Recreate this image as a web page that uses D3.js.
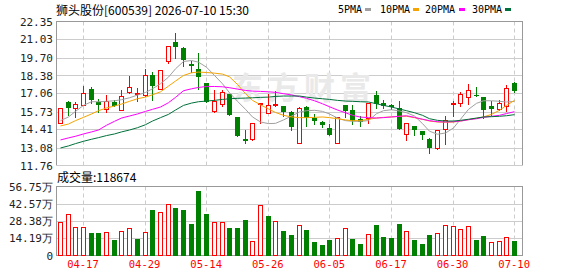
<!DOCTYPE html>
<html>
<head>
<meta charset="utf-8">
<script src="https://cdn.jsdelivr.net/npm/d3@7"></script>
<style>
  body { margin: 0; background: #fff; }
  svg { display: block; }
</style>
</head>
<body>
<div id="grafico"></div>
<script>
// datos del gráfico
var dates = ["04-14","04-15","04-16","04-17","04-20","04-21","04-22","04-23","04-24","04-27",
  "04-28","04-29","04-30","05-06","05-07","05-08","05-11","05-12","05-13","05-14",
  "05-15","05-18","05-19","05-20","05-21","05-22","05-25","05-26","05-27","05-28",
  "05-29","06-01","06-02","06-03","06-04","06-05","06-08","06-09","06-10","06-11",
  "06-12","06-15","06-16","06-17","06-18","06-22","06-23","06-24","06-25","06-26",
  "06-29","06-30","07-01","07-02","07-03","07-06","07-07","07-08","07-09","07-10"];

var open = [14.91,16.43,16.01,16.23,17.38,16.40,15.89,16.45,15.86,17.13,
  17.01,16.92,18.43,17.40,19.41,20.82,20.41,19.20,18.85,17.82,
  15.77,16.30,17.01,15.33,13.74,13.74,16.25,15.64,16.18,16.11,
  15.69,13.39,16.06,15.28,14.96,14.52,13.44,16.18,15.82,15.15,
  15.25,16.94,16.35,16.18,15.99,14.08,14.64,14.30,13.74,13.05,
  14.42,16.25,16.38,16.77,16.96,16.77,16.13,15.94,16.13,17.82];
var high = [16.00,16.52,16.43,17.57,17.53,16.65,16.91,16.60,17.28,18.31,
  17.43,18.85,18.65,18.80,20.58,21.48,20.45,19.45,20.02,17.85,
  17.31,17.31,17.05,15.35,14.35,14.92,16.35,16.99,17.21,16.15,
  15.77,16.04,16.10,15.52,15.06,14.84,15.36,16.18,16.23,15.40,
  16.35,17.21,16.55,16.30,16.47,14.87,14.66,14.32,13.76,14.37,
  15.37,16.50,17.16,17.75,17.53,16.79,16.50,16.60,17.65,17.89];
var low = [14.85,15.50,15.35,16.20,16.35,15.69,15.69,16.10,15.85,17.12,
  16.52,16.90,16.60,17.38,19.31,19.68,19.07,18.60,17.40,16.40,
  15.69,16.11,15.48,13.95,13.44,13.66,14.89,15.62,16.16,15.37,
  14.40,13.39,14.70,14.84,14.59,13.98,13.42,15.33,14.84,14.64,
  14.91,15.99,15.99,15.89,14.43,13.66,14.03,13.69,12.69,13.00,
  13.37,15.40,16.11,16.30,16.87,15.25,15.45,15.82,15.74,17.16];
var close = [15.99,16.01,16.25,17.06,16.60,16.23,16.52,16.16,16.84,17.50,
  17.09,18.38,17.60,18.75,20.58,20.46,19.55,19.08,18.26,16.43,
  16.50,17.16,15.50,13.96,13.54,14.89,16.35,16.18,16.30,15.69,
  14.59,16.01,15.28,15.03,14.76,14.03,15.35,15.77,15.01,14.98,
  16.33,16.31,16.11,16.03,14.45,14.86,14.40,13.98,13.05,14.35,
  15.13,16.35,17.01,17.28,16.91,15.86,15.94,16.33,17.45,17.23];

// volumen en 万
var volume = [27.2,34.0,23.2,23.2,18.5,18.5,19.1,12.8,19.9,22.3,
  13.6,19.1,37.3,35.4,42.2,38.9,37.3,25.8,53.0,34.0,
  27.5,27.5,22.6,22.6,29.1,12.0,41.3,32.4,28.3,20.1,
  16.9,25.0,21.0,11.4,8.7,12.8,14.2,22.3,13.6,9.5,
  17.7,25.0,15.3,14.4,25.8,19.9,12.8,9.5,16.9,18.5,
  24.8,24.0,21.5,24.0,12.8,16.1,11.2,12.0,15.0,11.8674];

var ma5 = [15.06,15.33,15.74,16.18,16.45,16.45,16.48,16.52,16.60,16.74,
  16.94,17.13,17.40,17.77,18.26,18.87,19.41,19.48,19.36,18.99,
  18.38,17.77,17.11,16.48,15.89,15.33,14.96,14.84,14.86,15.11,
  15.40,15.69,15.79,15.82,15.74,15.55,15.25,15.06,15.01,15.01,
  15.06,15.57,15.79,15.86,15.77,15.64,15.40,14.84,14.28,14.06,
  14.15,14.52,15.16,15.89,16.33,16.52,16.52,16.48,16.43,16.48];
var ma10 = [14.67,14.81,15.06,15.30,15.55,15.79,15.99,16.13,16.28,16.48,
  16.67,16.79,16.96,17.18,17.60,17.97,18.38,18.58,18.63,18.60,
  18.55,18.48,18.28,17.72,17.04,16.55,16.22,15.92,15.66,15.45,
  15.33,15.28,15.28,15.30,15.33,15.28,15.20,15.11,15.06,15.06,
  15.16,15.25,15.30,15.33,15.38,15.38,15.28,15.16,15.03,14.96,
  14.94,14.96,15.03,15.13,15.23,15.33,15.52,15.82,16.18,16.55];
var ma20 = [13.64,13.79,13.91,14.08,14.23,14.37,14.72,15.01,15.25,15.40,
  15.55,15.74,15.89,16.06,16.38,16.77,17.26,17.40,17.50,17.57,
  17.57,17.55,17.48,17.38,17.28,17.23,17.21,17.18,17.14,17.04,
  16.95,16.82,16.70,16.52,16.30,16.08,15.84,15.64,15.45,15.32,
  15.28,15.25,15.28,15.33,15.38,15.42,15.30,15.16,15.06,14.98,
  14.96,14.98,15.03,15.13,15.20,15.30,15.38,15.45,15.58,15.72];
var ma30 = [13.05,13.20,13.37,13.54,13.69,13.81,13.96,14.08,14.23,14.37,
  14.54,14.76,15.03,15.28,15.52,15.84,16.18,16.35,16.45,16.50,
  16.55,16.62,16.67,16.70,16.72,16.74,16.77,16.79,16.84,16.87,
  16.87,16.87,16.79,16.72,16.67,16.62,16.55,16.50,16.48,16.45,
  16.43,16.30,16.18,16.06,15.91,15.79,15.64,15.45,15.20,15.08,
  15.03,15.03,15.08,15.16,15.25,15.33,15.35,15.38,15.42,15.50];

var priceTicks = [11.76, 13.08, 14.41, 15.73, 17.06, 18.38, 19.70, 21.03, 22.35];
var volTicks = [0, 14.19, 28.38, 42.57, 56.75];
var dateTicks = ["04-17","04-29","05-14","05-26","06-05","06-17","06-30","07-10"];

var maNames = ["5PMA", "10PMA", "20PMA", "30PMA"];
var maColors = ["#a0a0a0", "#f5a300", "#ff00ff", "#00703a"];

// tamaño
var width = 578, height = 276;
var left = 56, right = 523;
var pTop = 21.5, pBottom = 165.5;
var vTop = 186.5, vBottom = 255.5;

var svg = d3.select("#grafico").append("svg")
  .attr("width", width).attr("height", height);

var x = d3.scaleBand().domain(dates).range([left, 518]);
var yP = d3.scaleLinear().domain([11.76, 22.35]).range([pBottom, pTop]);
var yV = d3.scaleLinear().domain([0, 56.75]).range([vBottom, vTop]);

function cx(d) { return Math.round(x(d) + x.bandwidth() / 2); }
function crisp(v) { return Math.round(v) + 0.5; }

var red = "#ff0000", green = "#008000";
var gridColor = "#cccccc", frameColor = "#999999";

// rejilla horizontal
svg.append("g").selectAll("line").data(priceTicks.slice(1, -1)).enter().append("line")
  .attr("x1", left).attr("x2", right)
  .attr("y1", function(d) { return crisp(yP(d)); })
  .attr("y2", function(d) { return crisp(yP(d)); })
  .attr("stroke", gridColor);
svg.append("g").selectAll("line").data(volTicks.slice(1, -1)).enter().append("line")
  .attr("x1", left).attr("x2", right)
  .attr("y1", function(d) { return crisp(yV(d)); })
  .attr("y2", function(d) { return crisp(yV(d)); })
  .attr("stroke", gridColor);

// líneas verticales punteadas
[[pTop, pBottom], [vTop, vBottom]].forEach(function(r) {
  svg.append("g").selectAll("line").data(dateTicks).enter().append("line")
    .attr("x1", function(d) { return cx(d) + 0.5; })
    .attr("x2", function(d) { return cx(d) + 0.5; })
    .attr("y1", r[0]).attr("y2", r[1])
    .attr("stroke", gridColor)
    .attr("stroke-dasharray", "4,3");
});

// marca de agua
svg.append("text")
  .attr("x", 232).attr("y", 99)
  .attr("font-family", "Noto Sans CJK SC")
  .attr("font-size", 31).attr("font-weight", "bold")
  .attr("letter-spacing", 5)
  .attr("fill", "#e9e9e9")
  .text("东方财富");

// marcos
svg.append("rect").attr("x", left + 0.5).attr("y", pTop).attr("width", right - left - 1)
  .attr("height", pBottom - pTop).attr("fill", "none").attr("stroke", frameColor);
svg.append("line").attr("x1", left).attr("x2", right).attr("y1", pBottom).attr("y2", pBottom)
  .attr("stroke", gridColor);
svg.append("rect").attr("x", left + 0.5).attr("y", vTop).attr("width", right - left - 1)
  .attr("height", vBottom - vTop).attr("fill", "none").attr("stroke", frameColor);

// velas
var idx = d3.range(dates.length);
function isUp(i) {
  if (close[i] !== open[i]) return close[i] > open[i];
  return i === 0 || close[i] >= close[i - 1];
}

var candles = svg.append("g").selectAll("g").data(idx).enter().append("g");
candles.append("line")
  .attr("x1", function(i) { return cx(dates[i]) + 0.5; })
  .attr("x2", function(i) { return cx(dates[i]) + 0.5; })
  .attr("y1", function(i) { return Math.round(yP(high[i])); })
  .attr("y2", function(i) { return Math.round(yP(low[i])) + 1; })
  .attr("stroke", function(i) { return isUp(i) ? red : green; });
candles.append("rect")
  .attr("x", function(i) { return isUp(i) ? cx(dates[i]) - 1.5 : cx(dates[i]) - 2; })
  .attr("y", function(i) {
    var t = Math.round(yP(Math.max(open[i], close[i])));
    return isUp(i) ? t + 0.5 : t;
  })
  .attr("width", function(i) { return isUp(i) ? 4 : 5; })
  .attr("height", function(i) {
    var h = Math.round(yP(Math.min(open[i], close[i]))) - Math.round(yP(Math.max(open[i], close[i])));
    return isUp(i) ? Math.max(h, 0) : Math.max(h, 1);
  })
  .attr("fill", function(i) { return isUp(i) ? "#fff" : green; })
  .attr("stroke", function(i) { return isUp(i) ? red : "none"; });

// medias móviles
var mas = [ma5, ma10, ma20, ma30];
var line = d3.line()
  .x(function(d, i) { return cx(dates[i]) + 0.5; })
  .y(function(d) { return yP(d); });
mas.forEach(function(m, k) {
  svg.append("path").datum(m)
    .attr("d", line)
    .attr("fill", "none")
    .attr("stroke", maColors[k])
    .attr("stroke-width", 1);
});

// volumen
function volUp(i) { return i === 0 ? close[i] >= open[i] : close[i] >= close[i - 1]; }
svg.append("g").selectAll("rect").data(idx).enter().append("rect")
  .attr("x", function(i) { return volUp(i) ? cx(dates[i]) - 1.5 : cx(dates[i]) - 2; })
  .attr("y", function(i) { return Math.round(yV(volume[i])) + (volUp(i) ? 0.5 : 0); })
  .attr("width", function(i) { return volUp(i) ? 4 : 5; })
  .attr("height", function(i) {
    var h = Math.round(yV(0)) - Math.round(yV(volume[i]));
    return volUp(i) ? h - 1 : h;
  })
  .attr("fill", function(i) { return volUp(i) ? "#fff" : green; })
  .attr("stroke", function(i) { return volUp(i) ? red : "none"; });

// ejes
var axisFont = "DejaVu Sans Mono";
var yAxis = svg.append("g").attr("transform", "translate(" + (left - 3) + ",0)")
  .call(d3.axisLeft(yP).tickValues(priceTicks).tickSize(0).tickPadding(0)
    .tickFormat(d3.format(".2f")));
var vAxis = svg.append("g").attr("transform", "translate(" + (left - 3) + ",0)")
  .call(d3.axisLeft(yV).tickValues(volTicks).tickSize(0).tickPadding(0)
    .tickFormat(function(d) { return d === 0 ? "0" : d3.format(".2f")(d) + "万"; }));
var xAxis = svg.append("g").attr("transform", "translate(0," + (vBottom + 3) + ")")
  .call(d3.axisBottom(x).tickValues(dateTicks).tickSize(0).tickPadding(0));

[yAxis, vAxis, xAxis].forEach(function(a) {
  a.select(".domain").remove();
  a.selectAll("text").attr("font-family", axisFont).attr("font-size", 11);
});
yAxis.selectAll("text").attr("fill", "#222");
vAxis.selectAll("text").attr("fill", "#222");
xAxis.selectAll("text").attr("fill", red).attr("dy", "0.9em").attr("font-size", 10.5);

// títulos
svg.append("text")
  .attr("x", 56).attr("y", 15)
  .attr("font-family", "Noto Sans CJK SC").attr("font-size", 12)
  .attr("fill", "#000")
  .text("狮头股份[600539] 2026-07-10 15:30");

svg.append("text")
  .attr("x", 57).attr("y", 182)
  .attr("font-family", "Noto Sans CJK SC").attr("font-size", 12)
  .attr("fill", "#000")
  .text("成交量:" + Math.round(volume[volume.length - 1] * 10000));

// leyenda
var legX = [338, 380, 425, 472];
var legMark = [365, 413, 459, 505];
maNames.forEach(function(n, k) {
  svg.append("text")
    .attr("x", legX[k]).attr("y", 13)
    .attr("font-family", axisFont).attr("font-size", 10)
    .attr("fill", "#000")
    .text(n);
  svg.append("rect")
    .attr("x", legMark[k]).attr("y", 8)
    .attr("width", 6).attr("height", 3)
    .attr("fill", maColors[k]);
});
</script>
</body>
</html>
